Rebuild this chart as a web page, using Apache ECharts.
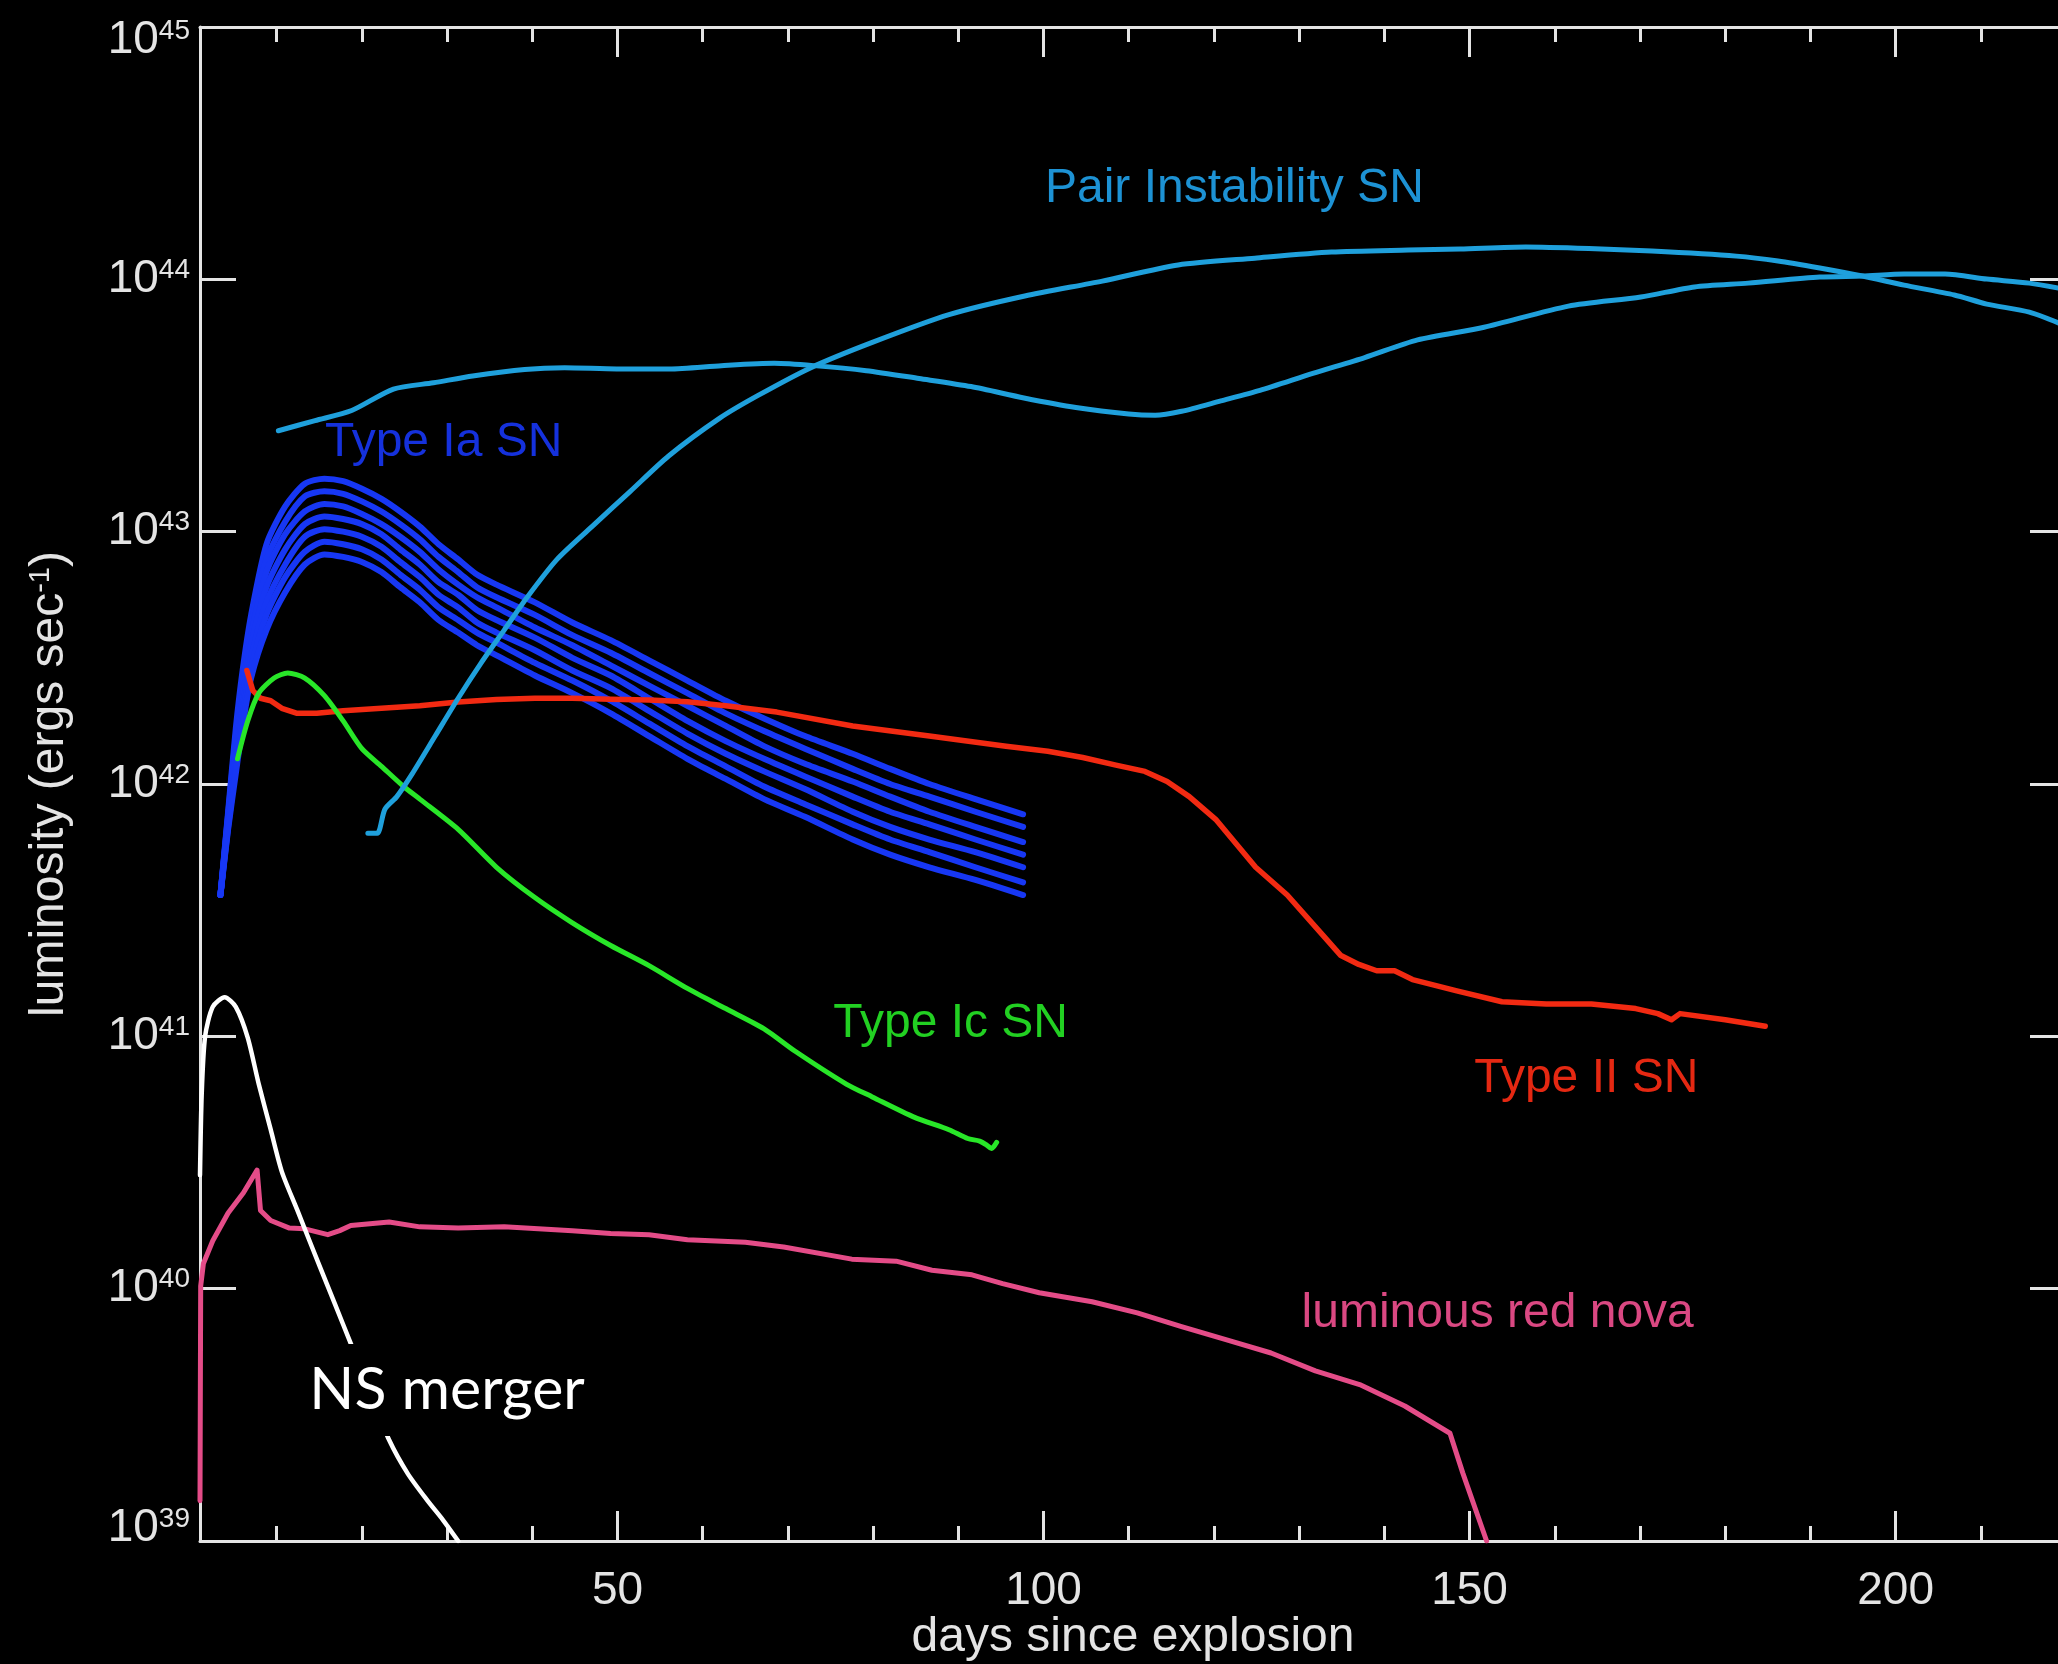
<!DOCTYPE html>
<html>
<head>
<meta charset="utf-8">
<title>Light curves of optical transients</title>
<script src="https://cdn.jsdelivr.net/npm/echarts@6/dist/echarts.min.js"></script>
<style>
  html, body { margin: 0; padding: 0; background: #000; }
  #chart { width: 2058px; height: 1664px; }
</style>
</head>
<body>
<div id="chart"></div>
<script>
// x: days since explosion, y: log10 of luminosity in erg/s
const xMajorTicks = [50, 100, 150, 200];
const xMinorTicks = [10, 20, 30, 40, 60, 70, 80, 90, 110, 120, 130, 140, 160, 170, 180, 190, 210];

// Pair instability supernova, two models
const pisnADays = [10.2, 14.5, 18.8, 23.7, 28.4, 33.0, 39.1, 43.8, 49.9, 56.1, 62.2, 68.4, 73.0, 79.2, 85.4, 91.5, 97.7, 103.8, 110.0, 113.1, 116.2, 120.8, 125.4, 131.6, 137.7, 143.9, 151.7, 161.6, 170.1, 176.4, 182.7, 191.1, 196.1, 201.0, 205.8, 210.7, 215.7, 220.0];
const pisnALog  = [43.40, 43.44, 43.48, 43.565, 43.59, 43.617, 43.643, 43.65, 43.645, 43.645, 43.658, 43.667, 43.658, 43.638, 43.607, 43.575, 43.53, 43.492, 43.466, 43.461, 43.477, 43.518, 43.56, 43.627, 43.69, 43.76, 43.81, 43.894, 43.93, 43.97, 43.985, 44.009, 44.013, 44.021, 44.021, 44.001, 43.985, 43.96];

const pisnBDays = [20.7, 21.8, 22.7, 24.1, 25.9, 28.6, 31.3, 34.0, 36.7, 39.4, 42.9, 47.0, 51.5, 56.0, 62.0, 66.5, 72.7, 79.9, 88.9, 97.8, 106.9, 115.8, 124.8, 133.8, 142.8, 148.9, 156.6, 164.0, 171.4, 181.3, 186.2, 191.1, 196.1, 201.0, 206.9, 210.7, 215.7, 220.0];
const pisnBLog  = [41.805, 41.805, 41.90, 41.95, 42.04, 42.19, 42.34, 42.48, 42.61, 42.74, 42.89, 43.02, 43.16, 43.30, 43.45, 43.54, 43.65, 43.75, 43.86, 43.934, 43.993, 44.057, 44.084, 44.108, 44.116, 44.12, 44.128, 44.122, 44.112, 44.092, 44.073, 44.045, 44.013, 43.977, 43.938, 43.902, 43.870, 43.815];

// Type Ia supernovae, family of seven models
const iaDays = [3.4, 4.3, 5.2, 6.0, 7.0, 8.8, 11.0, 13.3, 15.6, 17.8, 20.0, 22.3, 24.5, 26.8, 29.0, 31.3, 33.5, 35.8, 40.3, 44.7, 49.2, 53.7, 58.2, 62.7, 67.2, 72.0, 77.6, 82.0, 86.6, 92.0, 97.6];
const ia1 = [41.56, 41.89, 42.22, 42.45, 42.67, 42.95, 43.10, 43.19, 43.21, 43.20, 43.17, 43.13, 43.08, 43.02, 42.95, 42.89, 42.83, 42.79, 42.72, 42.64, 42.57, 42.49, 42.41, 42.33, 42.26, 42.19, 42.12, 42.06, 42.00, 41.94, 41.88];
const ia2 = [41.56, 41.88, 42.19, 42.41, 42.63, 42.89, 43.04, 43.14, 43.16, 43.15, 43.12, 43.08, 43.03, 42.97, 42.90, 42.84, 42.78, 42.74, 42.67, 42.59, 42.52, 42.44, 42.36, 42.28, 42.21, 42.14, 42.06, 42.00, 41.95, 41.89, 41.83];
const ia3 = [41.56, 41.87, 42.16, 42.38, 42.59, 42.84, 42.99, 43.08, 43.11, 43.10, 43.07, 43.03, 42.98, 42.92, 42.85, 42.79, 42.74, 42.70, 42.62, 42.55, 42.47, 42.39, 42.31, 42.23, 42.15, 42.08, 42.01, 41.95, 41.89, 41.83, 41.77];
const ia4 = [41.56, 41.86, 42.13, 42.34, 42.55, 42.78, 42.93, 43.03, 43.06, 43.05, 43.03, 42.99, 42.93, 42.87, 42.80, 42.75, 42.69, 42.65, 42.58, 42.50, 42.43, 42.34, 42.25, 42.17, 42.10, 42.03, 41.95, 41.89, 41.84, 41.78, 41.72];
const ia5 = [41.56, 41.84, 42.10, 42.30, 42.50, 42.72, 42.87, 42.98, 43.01, 43.00, 42.98, 42.94, 42.88, 42.82, 42.75, 42.70, 42.64, 42.60, 42.53, 42.45, 42.38, 42.29, 42.20, 42.12, 42.05, 41.98, 41.89, 41.83, 41.78, 41.73, 41.67];
const ia6 = [41.56, 41.83, 42.07, 42.27, 42.46, 42.67, 42.82, 42.92, 42.96, 42.95, 42.93, 42.89, 42.83, 42.77, 42.70, 42.65, 42.60, 42.56, 42.48, 42.41, 42.33, 42.24, 42.15, 42.07, 41.99, 41.92, 41.84, 41.78, 41.73, 41.67, 41.61];
const ia7 = [41.56, 41.82, 42.04, 42.23, 42.42, 42.61, 42.76, 42.87, 42.91, 42.90, 42.88, 42.84, 42.78, 42.72, 42.65, 42.60, 42.55, 42.51, 42.43, 42.36, 42.28, 42.19, 42.10, 42.02, 41.94, 41.87, 41.78, 41.72, 41.67, 41.62, 41.56];

// Type Ic supernova
const icDays = [5.4, 6.6, 7.9, 9.7, 11.3, 13.3, 15.6, 17.8, 20.0, 22.3, 24.9, 26.8, 31.3, 35.8, 40.3, 44.7, 49.2, 53.7, 58.2, 62.7, 67.2, 70.9, 76.9, 79.9, 84.8, 88.9, 91.1, 92.5, 93.3, 93.9, 94.5];
const icLog  = [42.10, 42.25, 42.36, 42.42, 42.44, 42.42, 42.35, 42.25, 42.14, 42.07, 41.99, 41.94, 41.82, 41.67, 41.55, 41.45, 41.36, 41.28, 41.19, 41.11, 41.03, 40.94, 40.81, 40.76, 40.68, 40.63, 40.595, 40.585, 40.57, 40.555, 40.58];

// Type II (plateau) supernova
const iiDays = [6.5, 7.2, 8.1, 9.3, 10.6, 12.4, 14.7, 17.8, 22.3, 26.8, 31.3, 35.8, 40.3, 44.7, 49.2, 53.7, 58.2, 62.7, 68.7, 77.6, 86.6, 95.6, 100.5, 104.6, 108.5, 111.9, 114.5, 117.1, 120.2, 124.9, 128.6, 132.8, 134.9, 137.0, 139.1, 141.2, 143.3, 148.5, 153.8, 159.0, 164.3, 169.5, 172.1, 173.7, 174.7, 180.0, 184.7];
const iiLog  = [42.45, 42.37, 42.34, 42.33, 42.30, 42.28, 42.28, 42.29, 42.30, 42.31, 42.325, 42.335, 42.34, 42.34, 42.336, 42.333, 42.326, 42.31, 42.285, 42.23, 42.19, 42.15, 42.13, 42.105, 42.075, 42.05, 42.01, 41.95, 41.86, 41.67, 41.56, 41.40, 41.32, 41.285, 41.26, 41.26, 41.225, 41.18, 41.137, 41.128, 41.128, 41.11, 41.09, 41.066, 41.09, 41.066, 41.04];

// Luminous red nova
const lrnDays = [1.0, 1.08, 1.4, 2.5, 4.3, 6.1, 7.7, 8.1, 9.3, 11.5, 13.3, 16.0, 17.4, 18.7, 23.2, 26.8, 31.3, 36.7, 44.7, 49.2, 53.7, 58.2, 65.0, 69.5, 77.5, 82.7, 86.9, 91.6, 95.2, 99.5, 105.7, 111.0, 116.2, 121.4, 126.7, 131.9, 137.1, 142.4, 147.7, 149.2, 152.0];
const lrnLog  = [39.16, 40.01, 40.10, 40.19, 40.30, 40.38, 40.47, 40.31, 40.27, 40.24, 40.237, 40.214, 40.23, 40.25, 40.264, 40.245, 40.24, 40.245, 40.23, 40.219, 40.214, 40.194, 40.184, 40.165, 40.117, 40.109, 40.073, 40.055, 40.02, 39.984, 39.948, 39.904, 39.85, 39.798, 39.745, 39.674, 39.62, 39.535, 39.427, 39.27, 39.0];

// Neutron star merger (kilonova)
const nsDays = [1.0, 1.2, 1.6, 2.5, 3.9, 5.2, 6.6, 7.9, 9.3, 10.6, 12.4, 14.2, 16.0, 17.8, 19.6, 21.4, 23.2, 25.4, 27.7, 29.5, 31.3];
const nsLog  = [40.45, 40.77, 41.0, 41.117, 41.155, 41.117, 40.995, 40.81, 40.63, 40.464, 40.313, 40.16, 40.009, 39.858, 39.706, 39.554, 39.40, 39.266, 39.16, 39.084, 39.0];

const AXIS = '#e4e4e4';
const SANS = '"Liberation Sans", Arial, Helvetica, sans-serif';
const X_TITLE = 'days since explosion';

// Text annotations, anchored in data coordinates (day, log L)
const annotations = [
  { text: 'Pair Instability SN', at: [122.4, 44.358], color: '#1d92d4' },
  { text: 'Type Ia SN',          at: [29.6, 43.351],  color: '#1531dc' },
  { text: 'Type Ic SN',          at: [89.1, 41.048],  color: '#22d022' },
  { text: 'Type II SN',          at: [163.7, 40.832], color: '#e52812' },
  { text: 'luminous red nova',   at: [153.3, 39.899], color: '#da4882' },
  { text: 'NS merger',           at: [30.0, 39.598],  color: '#ffffff', font: 'Lato', size: 59, boxed: true }
];

const pairs = (days, vals) => days.map((d, i) => [d, vals[i]]);

function curve(name, days, vals, color, width, smooth, z) {
  return {
    type: 'line', name, xAxisIndex: 0, yAxisIndex: 0,
    data: pairs(days, vals),
    showSymbol: false, symbol: 'none',
    smooth: smooth,
    lineStyle: { color, width, cap: 'round', join: 'round' },
    z: z, silent: true, animation: false
  };
}

const iaColor = '#1737f4';
const series = [
  curve('Type Ia 1', iaDays, ia1, iaColor, 6, 0.25, 2),
  curve('Type Ia 2', iaDays, ia2, iaColor, 6, 0.25, 2),
  curve('Type Ia 3', iaDays, ia3, iaColor, 6, 0.25, 2),
  curve('Type Ia 4', iaDays, ia4, iaColor, 6, 0.25, 2),
  curve('Type Ia 5', iaDays, ia5, iaColor, 6, 0.25, 2),
  curve('Type Ia 6', iaDays, ia6, iaColor, 6, 0.25, 2),
  curve('Type Ia 7', iaDays, ia7, iaColor, 6, 0.25, 2),
  curve('Type II SN', iiDays, iiLog, '#f22a12', 5.5, false, 3),
  curve('Type Ic SN', icDays, icLog, '#28e628', 5, 0.25, 4),
  curve('PISN A', pisnADays, pisnALog, '#1fa0dc', 5, 0.25, 5),
  curve('PISN B', pisnBDays, pisnBLog, '#1fa0dc', 5, 0.25, 5),
  curve('luminous red nova', lrnDays, lrnLog, '#e44c88', 5, false, 6),
  curve('NS merger', nsDays, nsLog, '#ffffff', 4.5, 0.25, 7)
];

function xAxisCfg(grid, pos, ticks, len, withLabels) {
  return {
    type: 'value', gridIndex: grid, position: pos, min: 1, max: 220,
    axisLine: { show: grid === 0, lineStyle: { color: AXIS, width: 3 } },
    axisTick: { show: true, inside: true, length: len, customValues: ticks, lineStyle: { color: AXIS, width: 3 } },
    axisLabel: withLabels
      ? { show: true, customValues: ticks, margin: 27, color: AXIS, fontSize: 46, fontFamily: SANS }
      : { show: false },
    splitLine: { show: false }
  };
}

// Decade labels: the end labels sit inside the frame, as in the original plot
function decadeLabel(v) {
  if (v === 45) return '{g| }\n{b|10}{s|' + v + '}';
  if (v === 39) return '{b|10}{s|' + v + '}\n{g| }';
  return '{b|10}{s|' + v + '}';
}

function yAxisCfg(grid, pos, withLabels, show) {
  return {
    type: 'value', gridIndex: grid, position: pos, min: 39, max: 45, interval: 1,
    show: show,
    axisLine: { show: true, lineStyle: { color: AXIS, width: 3 } },
    axisTick: { show: true, inside: true, length: 36, lineStyle: { color: AXIS, width: 3 } },
    axisLabel: withLabels ? {
      show: true, margin: 10,
      formatter: decadeLabel,
      rich: {
        b: { color: AXIS, fontSize: 46, fontFamily: SANS, lineHeight: 46 },
        s: { color: AXIS, fontSize: 28, fontFamily: SANS, lineHeight: 24, verticalAlign: 'top' },
        g: { fontSize: 8, lineHeight: 26 }
      }
    } : { show: false },
    splitLine: { show: false },
    ...(withLabels ? {
      name: '{a|luminosity (ergs sec}{s|-1}{a|)}', nameLocation: 'middle', nameGap: 126,
      nameTextStyle: {
        color: AXIS, fontSize: 48, fontFamily: SANS,
        rich: {
          a: { color: AXIS, fontSize: 48, fontFamily: SANS, lineHeight: 48 },
          s: { color: AXIS, fontSize: 29, fontFamily: SANS, lineHeight: 24, verticalAlign: 'top' }
        }
      }
    } : {})
  };
}

const plotRect = { left: 200, top: 27, width: 1866, height: 1514, containLabel: false, outerBoundsMode: 'none' };

const chart = echarts.init(document.getElementById('chart'), null, { renderer: 'canvas' });
chart.setOption({
  backgroundColor: '#000',
  animation: false,
  grid: [ Object.assign({}, plotRect), Object.assign({}, plotRect) ],
  xAxis: [
    xAxisCfg(0, 'bottom', xMajorTicks, 30, true),
    xAxisCfg(0, 'top', xMajorTicks, 30, false),
    xAxisCfg(1, 'bottom', xMinorTicks, 15, false),
    xAxisCfg(1, 'top', xMinorTicks, 15, false)
  ],
  yAxis: [
    yAxisCfg(0, 'left', true, true),
    yAxisCfg(0, 'right', false, true),
    yAxisCfg(1, 'left', false, false)
  ],
  series: series
});

// Curve annotations and the x-axis title, placed through the chart's own coordinate system
const toPx = v => chart.convertToPixel({ xAxisIndex: 0, yAxisIndex: 0 }, v);
const axisMid = toPx([(1 + 220) / 2, 39]);

const graphics = annotations.map(a => {
  const p = toPx(a.at);
  return {
    type: 'text', z: 100, silent: true,
    x: p[0], y: p[1],
    style: {
      text: a.text,
      fill: a.color,
      fontSize: a.size || 48,
      fontFamily: a.font || SANS,
      align: 'center',
      verticalAlign: 'middle',
      backgroundColor: a.boxed ? '#000000' : undefined,
      padding: a.boxed ? [16, 8] : undefined,
      lineHeight: a.boxed ? 60 : 50
    }
  };
});
graphics.push({
  type: 'text', z: 100, silent: true,
  x: axisMid[0], y: axisMid[1] + 97,
  style: { text: X_TITLE, fill: AXIS, fontSize: 48, fontFamily: SANS, align: 'center', verticalAlign: 'middle' }
});

chart.setOption({ graphic: graphics });
</script>
</body>
</html>
